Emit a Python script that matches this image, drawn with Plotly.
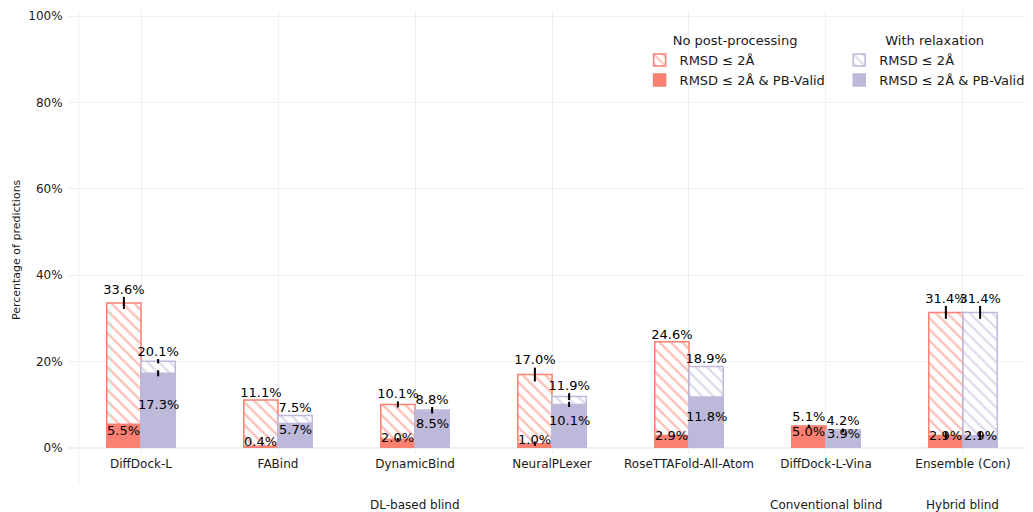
import plotly.graph_objects as go

methods = ["DiffDock-L", "FABind", "DynamicBind", "NeuralPLexer",
           "RoseTTAFold-All-Atom", "DiffDock-L-Vina", "Ensemble (Con)"]
groups = ["DL-based blind"] * 5 + ["Conventional blind", "Hybrid blind"]

none_rmsd = [33.6, 11.1, 10.1, 17.0, 24.6, 5.1, 31.4]
none_rmsd_err = [1.4, 0.0, 0.7, 1.6, 0.0, 0.3, 1.5]
none_pb = [5.5, 0.4, 2.0, 1.0, 2.9, 5.0, 2.9]
none_pb_err = [0.0, 0.0, 0.3, 0.5, 0.0, 0.3, 0.8]
relax_rmsd = [20.1, 7.5, 8.8, 11.9, 18.9, 4.2, 31.4]
relax_rmsd_err = [0.5, 0.0, 0.7, 0.8, 0.0, 0.3, 1.5]
relax_pb = [17.3, 5.7, 8.5, 10.1, 11.8, 3.9, 2.9]
relax_pb_err = [0.7, 0.0, 0.5, 0.6, 0.0, 0.3, 0.8]

y_ticks = [0, 20, 40, 60, 80, 100]
y_title = "Percentage of predictions"

SALMON = "#FA8072"
PURPLE = "#BCB9DA"
GRID = "#EBF0F8"
FONT = "DejaVu Sans"
TXT = "#1a1a1a"

positions = list(range(len(methods)))
BAR_W = 0.25

fig = go.Figure()
annotations = []


def add_set(total, total_err, pb, pb_err, color, shift, legend):
    xs = [p + shift for p in positions]
    fig.add_trace(go.Bar(
        x=xs, y=total, name="RMSD ≤ 2Å", legend=legend, width=BAR_W,
        marker=dict(color="white", line=dict(color=color, width=1.5),
                    pattern=dict(shape="\\", fgcolor=color, bgcolor="white",
                                 size=8, solidity=0.3)),
        error_y=dict(type="data", array=total_err, color="black",
                     thickness=2, width=0),
        hoverinfo="skip",
    ))
    fig.add_trace(go.Bar(
        x=xs, y=pb, name="RMSD ≤ 2Å & PB-Valid", legend=legend, width=BAR_W,
        marker=dict(color=color, line=dict(color=color, width=1.5)),
        error_y=dict(type="data", array=pb_err, color="black",
                     thickness=2, width=0),
        hoverinfo="skip",
    ))
    fig.add_trace(go.Scatter(
        x=xs, y=[t + e for t, e in zip(total, total_err)],
        mode="text", text=[f"{v:.1f}%" for v in total],
        textposition="top center",
        textfont=dict(color="black", size=13, family=FONT),
        showlegend=False, hoverinfo="skip",
    ))
    for xv, v in zip(xs, pb):
        annotations.append(dict(
            x=xv, y=v / 2, text=f"{v:.1f}%", showarrow=False, yshift=6,
            font=dict(color="black", size=13, family=FONT)))


add_set(none_rmsd, none_rmsd_err, none_pb, none_pb_err, SALMON, -BAR_W / 2, "legend")
add_set(relax_rmsd, relax_rmsd_err, relax_pb, relax_pb_err, PURPLE, BAR_W / 2, "legend2")

# group labels under the category labels
seen = []
for g in groups:
    if g not in seen:
        seen.append(g)
for g in seen:
    idx = [p for p, gg in zip(positions, groups) if gg == g]
    annotations.append(dict(
        x=sum(idx) / len(idx), y=-0.13, xref="x", yref="paper",
        text=g, showarrow=False, yanchor="middle",
        font=dict(color=TXT, size=12, family=FONT)))

# y-axis title (centred on the full panel incl. the group-label band)
annotations.append(dict(
    x=-0.0537, y=0.453, xref="paper", yref="paper", text=y_title,
    textangle=-90, showarrow=False, xanchor="center", yanchor="middle",
    font=dict(color=TXT, size=11, family=FONT)))

fig.update_layout(
    template="plotly_white",
    width=1033, height=512,
    margin=dict(l=60, r=5, t=3, b=72, autoexpand=False),
    barmode="overlay",
    font=dict(family=FONT, size=12, color=TXT),
    yaxis=dict(range=[0, 101.2], tickvals=y_ticks,
               ticktext=[f"{t}%" for t in y_ticks],
               automargin=False, gridcolor=GRID, zerolinecolor=GRID,
               ticks="outside", ticklen=2, tickcolor="rgba(0,0,0,0)"),
    xaxis=dict(tickvals=positions, ticktext=methods, range=[-0.533, 6.533],
               automargin=False, gridcolor=GRID, zeroline=False,
               tickangle=0, ticks="outside", ticklen=5, tickcolor=GRID),
    legend=dict(title=dict(text="No post-processing", side="top center",
                           font=dict(size=13)),
                x=0.5905, xanchor="left", y=0.9606, yanchor="top",
                font=dict(size=13), bgcolor="rgba(0,0,0,0)"),
    legend2=dict(title=dict(text="With relaxation", side="top center",
                            font=dict(size=13)),
                 x=0.7967, xanchor="left", y=0.9606, yanchor="top",
                 font=dict(size=13), bgcolor="rgba(0,0,0,0)"),
    annotations=annotations,
    shapes=[dict(type="line", xref="x", yref="paper", x0=-0.453, x1=-0.453,
                 y0=1, y1=-0.085, line=dict(color=GRID, width=1))],
)

fig.write_html("out.html")
